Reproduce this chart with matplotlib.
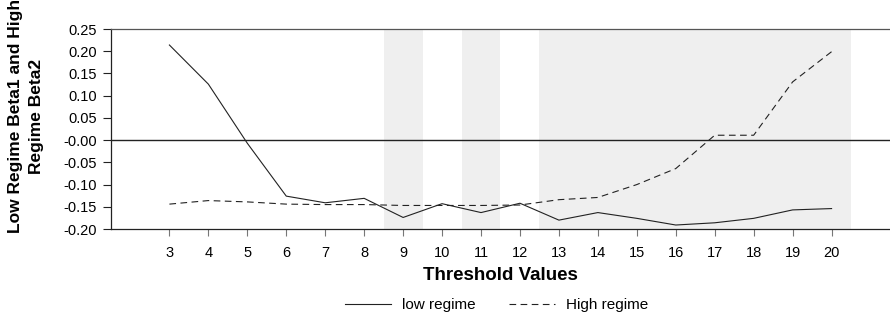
import matplotlib
matplotlib.use("Agg")
import matplotlib.pyplot as plt
import numpy as np

# threshold values and regime coefficients
thresholds = np.arange(3, 21)
low_regime = [0.214, 0.126, -0.007, -0.126, -0.141, -0.131, -0.174, -0.143, -0.163,
              -0.142, -0.180, -0.163, -0.176, -0.191, -0.186, -0.176, -0.157, -0.154]
high_regime = [-0.144, -0.136, -0.139, -0.144, -0.145, -0.145, -0.147, -0.147, -0.147,
               -0.146, -0.134, -0.129, -0.100, -0.064, 0.011, 0.011, 0.131, 0.199]

# shaded threshold ranges
shaded_spans = [(8.5, 9.5), (10.5, 11.5), (12.5, 20.5)]

y_ticks = [0.25, 0.20, 0.15, 0.10, 0.05, 0.0, -0.05, -0.10, -0.15, -0.20]
y_ticklabels = ["0.25", "0.20", "0.15", "0.10", "0.05", "-0.00",
                "-0.05", "-0.10", "-0.15", "-0.20"]

plt.rcParams["font.family"] = ["Liberation Sans", "DejaVu Sans"]

fig = plt.figure(figsize=(8.9, 3.26), dpi=100)
ax = fig.add_axes([0.1247, 0.2975, 0.8753, 0.6135])

for lo, hi in shaded_spans:
    ax.axvspan(lo, hi, color="#efefef", lw=0, zorder=0)

ax.axhline(0, color="#222222", lw=1.0, zorder=1)
ax.plot(thresholds, low_regime, color="#222222", lw=0.8, label="low regime", zorder=2)
ax.plot(thresholds, high_regime, color="#222222", lw=0.8, ls=(0, (6, 4)),
        label="High regime", zorder=2)

ax.set_xlim(1.5, 21.5)
ax.set_ylim(-0.20, 0.25)
ax.set_xticks(thresholds)
ax.set_xticklabels([str(t) for t in thresholds], fontsize=10.5)
ax.set_yticks(y_ticks)
ax.set_yticklabels(y_ticklabels, fontsize=10.5)

ax.tick_params(axis="x", length=5, color="#777777", pad=7)
ax.tick_params(axis="y", length=6, color="#222222", pad=4)

ax.spines["right"].set_visible(False)
ax.spines["top"].set_color("#555555")
ax.spines["left"].set_color("#222222")
ax.spines["bottom"].set_color("#222222")
for s in ["top", "left", "bottom"]:
    ax.spines[s].set_linewidth(0.9)

ax.set_xlabel("Threshold Values", fontsize=13.5, fontweight="bold", labelpad=5)
fig.text(26 / 890, 1 - 116 / 326, "Low Regime Beta1 and High\nRegime Beta2",
         rotation=90, ha="center", va="center", multialignment="center",
         fontsize=12.5, fontweight="bold", linespacing=1.45)

fig.legend(loc="center", bbox_to_anchor=(0.558, 1 - 305 / 326), ncol=2,
           frameon=False, fontsize=11, handlelength=3.0, columnspacing=2.2,
           handletextpad=0.7)

fig.savefig("out.png", dpi=100)
